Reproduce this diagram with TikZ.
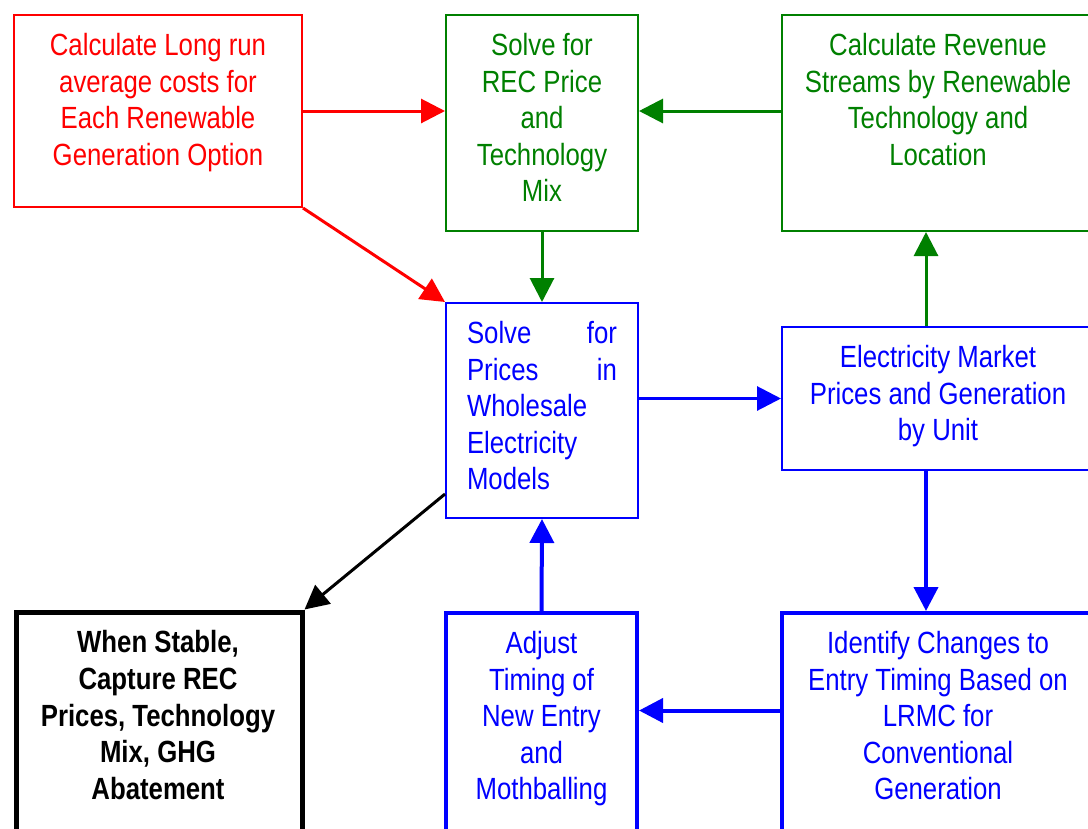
\documentclass[tikz,border=0pt]{standalone}
\usepackage{fontspec}
\setmainfont{Liberation Sans}[FakeStretch=0.84]
\usetikzlibrary{arrows.meta,calc}
\definecolor{myred}{RGB}{255,0,0}
\definecolor{mygreen}{RGB}{0,128,0}
\definecolor{myblue}{RGB}{0,0,255}
\begin{document}
\begin{tikzpicture}[x=0.75pt,y=-0.75pt,
  box/.style={draw,rectangle,inner sep=0pt,line width=1.5pt},
  thickbox/.style={draw,rectangle,inner sep=0pt,line width=3pt},
  txt/.style={anchor=north,inner sep=0pt,align=center,font=\fontsize{23pt}{27.4pt}\selectfont},
  conn/.style={line width=2.25pt,-{Triangle[length=18pt,width=18pt]}},
  thickconn/.style={line width=3pt,-{Triangle[length=18pt,width=18pt]}}]
\useasboundingbox (0,0) rectangle (1088,828);
\clip (0,0) rectangle (1088,828);
\fill[white] (0,0) rectangle (1088,828);
% boxes
\node[box,myred,minimum width=288*0.75pt,minimum height=192*0.75pt] (r1) at (158,111) {};
\node[box,mygreen,minimum width=192*0.75pt,minimum height=216*0.75pt] (g1) at (542,123) {};
\node[box,mygreen,minimum width=312*0.75pt,minimum height=216*0.75pt] (g2) at (938,123) {};
\node[box,myblue,minimum width=192*0.75pt,minimum height=215*0.75pt] (b1) at (542,410.5) {};
\node[box,myblue,minimum width=312*0.75pt,minimum height=143*0.75pt] (b2) at (938,398.5) {};
\node[draw,rectangle,inner sep=0pt,line width=3.75pt,black,minimum width=286*0.75pt,minimum height=228*0.75pt] (k1) at (159,726) {};
\node[thickbox,myblue,minimum width=191*0.75pt,minimum height=227*0.75pt] (b3) at (541.5,726.5) {};
\node[thickbox,myblue,minimum width=312*0.75pt,minimum height=227*0.75pt] (b4) at (938,726.5) {};
% texts
\node[txt,myred] (r1t) at ($(r1.north)+(0,19)$) {Calculate Long run\\average costs for\\Each Renewable\\Generation Option};
\node[txt,mygreen] (g1t) at ($(g1.north)+(0,19)$) {Solve for\\REC Price\\and\\Technology\\Mix};
\node[txt,mygreen] (g2t) at ($(g2.north)+(0,19)$) {Calculate Revenue\\Streams by Renewable\\Technology and\\Location};
\node[txt,myblue,align=left,text width=150*0.75pt] (b1t) at ($(b1.north)+(0,19)$) {Solve\hfill for\\Prices\hfill in\\Wholesale\\Electricity\\Models};
\node[txt,myblue] (b2t) at ($(b2.north)+(0,19)$) {Electricity Market\\Prices and Generation\\by Unit};
\node[txt,black,font=\fontsize{23pt}{27.4pt}\selectfont\bfseries] (k1t) at ($(k1.north)+(-1,21)$) {When Stable,\\Capture REC\\Prices, Technology\\Mix, GHG\\Abatement};
\node[txt,myblue] (b3t) at ($(b3.north)+(0,20)$) {Adjust\\Timing of\\New Entry\\and\\Mothballing};
\node[txt,myblue] (b4t) at ($(b4.north)+(0,20)$) {Identify Changes to\\Entry Timing Based on\\LRMC for\\Conventional\\Generation};
% connectors
\draw[conn,myred] (r1.east) -- (r1.east -| g1.west);
\draw[conn,myred] (r1.south east) -- (b1.north west);
\draw[conn,mygreen] (g2.west |- r1.east) -- (g1.east |- r1.east);
\draw[conn,mygreen] (g1.south) -- (b1.north);
\draw[conn,mygreen] ($(b2.north)+(-12,0)$) -- ($(g2.south)+(-12,0)$);
\draw[conn,myblue] (b1.east |- b2.west) -- (b2.west);
\draw[thickconn,myblue] ($(b2.south)+(-12,0)$) -- ($(b4.north)+(-12,0)$);
\coordinate (ly) at ($(b4.west)+(0,-16)$);
\draw[thickconn,myblue] (ly) -- (b3.east |- ly);
\draw[thickconn,myblue] (b3.north) -- (b1.south);
\draw[conn,black] ($(b1.south west)+(0,-25)$) -- (k1.north east);
\end{tikzpicture}
\end{document}
